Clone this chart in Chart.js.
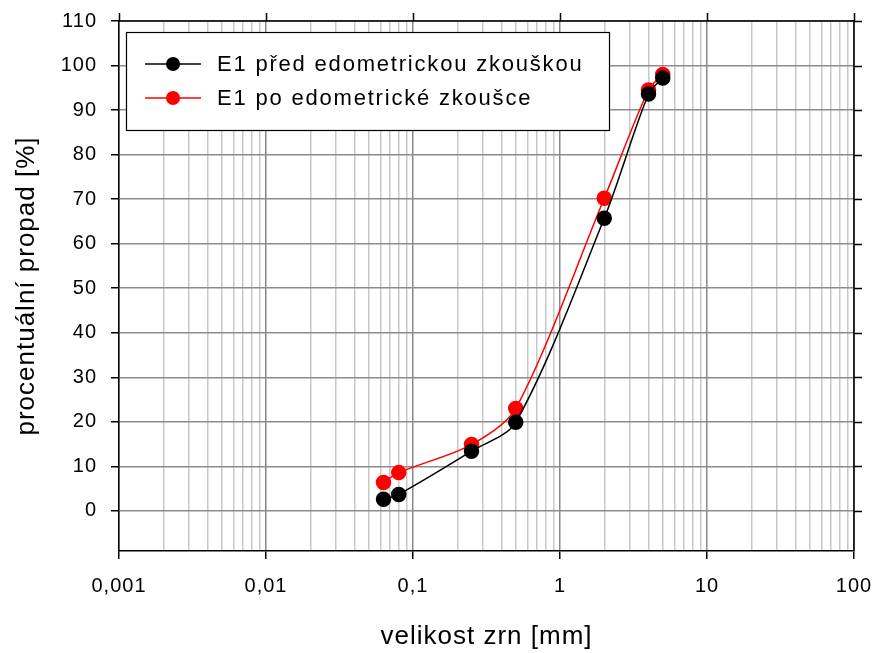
<!DOCTYPE html>
<html lang="cs">
<head>
  <meta charset="UTF-8">
  <title>Křivka zrnitosti E1</title>
  <script src="https://cdn.jsdelivr.net/npm/chart.js"></script>
  <style>
    html, body { margin: 0; padding: 0; background: #fff; }
    #wrap { width: 875px; height: 653px; }
  </style>
</head>
<body>
  <div id="wrap"><canvas id="chart" width="875" height="653"></canvas></div>

  <script>
    // velikost zrn [mm]
    const sizes = [0.063, 0.08, 0.25, 0.5, 2, 4, 5];
    // procentuální propad [%]
    const beforeTest = [2.6, 3.7, 13.4, 19.9, 65.7, 93.6, 97.2];
    const afterTest = [6.4, 8.6, 14.9, 23.0, 70.2, 94.5, 98.0];

    const seriesNames = ['E1 před edometrickou zkouškou', 'E1 po edometrické zkoušce'];
    const xTickValues = [0.001, 0.01, 0.1, 1, 10, 100];
    const xTickLabels = ['0,001', '0,01', '0,1', '1', '10', '100'];
    const yTickValues = [0, 10, 20, 30, 40, 50, 60, 70, 80, 90, 100, 110];

    const FONT = 'Arial, "Liberation Sans", sans-serif';
    const isMajor = v => xTickValues.some(m => Math.abs(v / m - 1) < 1e-9);

    // všechny log. mřížky 1..9 x 10^k
    const xAllTicks = [];
    for (let k = -3; k <= 1; k++) {
      for (let m = 1; m <= 9; m++) xAllTicks.push(m * Math.pow(10, k));
    }
    xAllTicks.push(100);

    const toPoints = (xs, ys) => xs.map((x, i) => ({ x: x, y: ys[i] }));

    // trochu širší písmo jako v originálu
    const spacingPlugin = {
      id: 'spacing',
      beforeDraw(chart) { chart.ctx.letterSpacing = '1px'; }
    };

    // rámeček, vnější značky nahoře/vpravo a legenda
    const framePlugin = {
      id: 'frame',
      afterDatasetsDraw(chart) {
        const c = chart.ctx, a = chart.chartArea;
        const xs = chart.scales.x, ys = chart.scales.y;
        c.save();
        c.strokeStyle = '#000';
        c.lineWidth = 1.5;
        c.beginPath();
        c.moveTo(a.left, a.top); c.lineTo(a.right, a.top);
        c.moveTo(a.right, a.top); c.lineTo(a.right, a.bottom);
        xTickValues.forEach(v => {
          const px = Math.round(xs.getPixelForValue(v)) + 0.5;
          c.moveTo(px, a.top); c.lineTo(px, a.top - 8);
        });
        yTickValues.forEach(v => {
          const py = Math.round(ys.getPixelForValue(v)) + 0.5;
          c.moveTo(a.right, py); c.lineTo(a.right + 8, py);
        });
        c.stroke();

        // legenda
        const lx = 126, ly = 32, lw = 483, lh = 98;
        c.fillStyle = '#fff';
        c.fillRect(lx, ly, lw, lh);
        c.lineWidth = 1.2;
        c.strokeRect(lx + 0.5, ly + 0.5, lw, lh);
        c.letterSpacing = '1.8px';
        chart.data.datasets.forEach((ds, i) => {
          const y = ly + 32 + i * 34;
          c.strokeStyle = ds.borderColor;
          c.lineWidth = 1.5;
          c.beginPath(); c.moveTo(145, y); c.lineTo(201, y); c.stroke();
          c.fillStyle = ds.pointBackgroundColor;
          c.beginPath(); c.arc(173, y, 7, 0, Math.PI * 2); c.fill();
          c.fillStyle = '#000';
          c.font = '22px ' + FONT;
          c.textBaseline = 'middle';
          c.fillText(ds.label, 217, y + 1);
        });
        c.restore();
      }
    };

    const ctx = document.getElementById('chart').getContext('2d');
    const chart = new Chart(ctx, {
      type: 'line',
      data: {
        datasets: [
          {
            label: seriesNames[0],
            data: toPoints(sizes, beforeTest),
            borderColor: '#000', backgroundColor: '#000',
            pointBackgroundColor: '#000', pointBorderColor: '#000',
            borderWidth: 1.5, pointRadius: 7, tension: 0.3, fill: false
          },
          {
            label: seriesNames[1],
            data: toPoints(sizes, afterTest),
            borderColor: '#ff0000', backgroundColor: '#ff0000',
            pointBackgroundColor: '#ff0000', pointBorderColor: '#ff0000',
            borderWidth: 1.5, pointRadius: 7, tension: 0.3, fill: false
          }
        ]
      },
      options: {
        responsive: false,
        animation: false,
        layout: { padding: { top: 21, right: 21, left: 0, bottom: 0 } },
        plugins: { legend: { display: false }, tooltip: { enabled: false } },
        scales: {
          x: {
            type: 'logarithmic',
            min: 0.001, max: 100,
            afterBuildTicks: s => { s.ticks = xAllTicks.map(v => ({ value: v })); },
            afterFit: s => { s.height = 102; s.paddingLeft = 0; s.paddingRight = 0; },
            ticks: {
              autoSkip: false, maxRotation: 0, padding: 15,
              color: '#000', font: { family: FONT, size: 20 },
              callback: v => {
                const i = xTickValues.findIndex(m => Math.abs(v / m - 1) < 1e-9);
                return i >= 0 ? xTickLabels[i] : '';
              }
            },
            grid: {
              color: c => isMajor(c.tick.value) ? '#888' : '#c8c8c8',
              lineWidth: 1.5,
              tickLength: 8,
              tickColor: c => isMajor(c.tick.value) ? '#000' : 'rgba(0,0,0,0)'
            },
            border: { color: '#000', width: 1.5 },
            title: {
              display: true, text: 'velikost zrn [mm]', color: '#000',
              font: { family: FONT, size: 26 }, padding: { top: 0, bottom: 1 }
            }
          },
          y: {
            min: -9, max: 110,
            afterBuildTicks: s => { s.ticks = yTickValues.map(v => ({ value: v })); },
            afterFit: s => { s.width = 119; s.paddingTop = 0; s.paddingBottom = 0; },
            ticks: { padding: 14, color: '#000', font: { family: FONT, size: 20 } },
            grid: { color: '#8c8c8c', lineWidth: 1.5, tickLength: 8, tickColor: '#000' },
            border: { color: '#000', width: 1.5 },
            title: {
              display: true, text: 'procentuální propad [%]', color: '#000',
              font: { family: FONT, size: 26 }, padding: { top: 11, bottom: 0 }
            }
          }
        }
      },
      plugins: [spacingPlugin, framePlugin]
    });
  </script>
</body>
</html>
